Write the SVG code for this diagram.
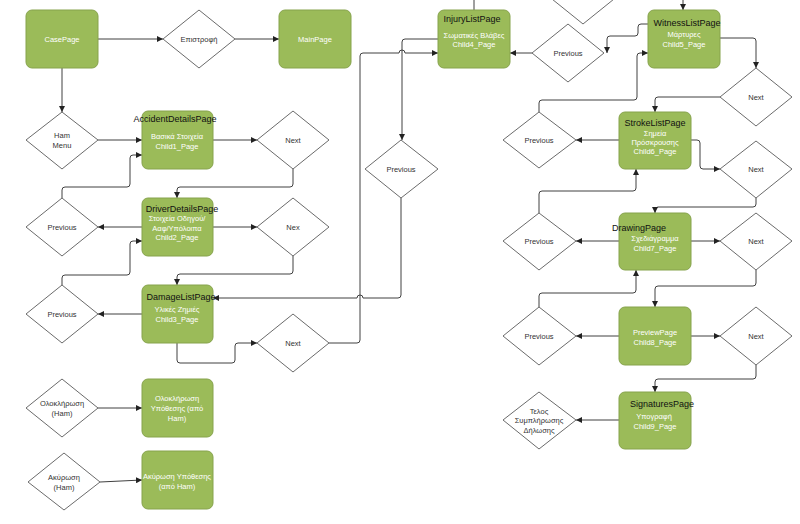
<svg xmlns="http://www.w3.org/2000/svg" width="800" height="524" viewBox="0 0 800 524">
<style>
.box{fill:#9BBB59;stroke:#86a34c;stroke-width:1}
.dia{fill:#fff;stroke:#6b6b6b;stroke-width:1}
.t{font-family:"Liberation Sans","Noto Sans",sans-serif;text-anchor:middle}
.w{fill:#fff;font-size:7.5px}
.h{fill:#111;font-size:9px}
.d{fill:#333;font-size:7.5px}
.c{fill:none;stroke:#404040;stroke-width:1}
.a{marker-end:url(#ar)}
</style>
<defs>
<marker id="ar" markerUnits="userSpaceOnUse" markerWidth="6" markerHeight="6" refX="6" refY="3" orient="auto">
<path d="M0,0 L6,3 L0,6 z" fill="#222"/>
</marker>
</defs>
<g id="connectors">
<path class="c a" d="M98,39 H163"/>
<path class="c a" d="M235,39 H279"/>
<path class="c a" d="M62,68 V112"/>
<path class="c a" d="M98,140 H142"/>
<path class="c a" d="M213,140 H257"/>
<path class="c a" d="M62,198 V190 Q62,187 65,187 H127 Q130,187 130,184 V158 Q130,155 133,155 H142"/>
<path class="c a" d="M293,169 V184 Q293,187 290,187 H180 Q177,187 177,190 V198"/>
<path class="c a" d="M142,227 H98"/>
<path class="c a" d="M213,227 H257"/>
<path class="c a" d="M293,256 V271 Q293,274 290,274 H180 Q177,274 177,277 V285"/>
<path class="c a" d="M62,285 V278 Q62,275 65,275 H127 Q130,275 130,272 V244 Q130,241 133,241 H142"/>
<path class="c a" d="M142,314 H98"/>
<path class="c a" d="M177,343 V360 Q177,363 180,363 H232 Q235,363 235,360 V346 Q235,343 238,343 H257"/>
<path class="c a" d="M329,343 H357 Q360,343 360,340 V56 Q360,53 363,53 H399 A3,3 0 0 1 405,53 H438"/>
<path class="c a" d="M438,39 H405 Q402,39 402,42 V140"/>
<path class="c a" d="M401,198 V295 Q401,298 398,298 H363 A3,3 0 0 0 357,298 H213"/>
<path class="c a" d="M532,53 H510"/>
<path class="c a" d="M648,24 H641 Q638,24 638,27 V33 Q638,36 635,36 H610 Q607,36 607,39 V53"/>
<path class="c a" d="M539,112 V103 Q539,100 542,100 H634 Q637,100 637,97 V56 Q637,53 640,53 H648"/>
<path class="c a" d="M619,140 H576"/>
<path class="c a" d="M720,38 H753 Q756,38 756,41 V68"/>
<path class="c a" d="M720,97 H658 Q655,97 655,100 V112"/>
<path class="c a" d="M691,140 H697 Q700,140 700,143 V166 Q700,169 703,169 H720"/>
<path class="c a" d="M756,198 V204 Q756,207 753,207 H658 Q655,207 655,210 V213"/>
<path class="c a" d="M539,213 V194 Q539,191 542,191 H633 Q636,191 636,188 V169"/>
<path class="c a" d="M619,241 H576"/>
<path class="c a" d="M691,241 H720"/>
<path class="c a" d="M756,270 V283 Q756,286 753,286 H658 Q655,286 655,289 V307"/>
<path class="c a" d="M539,307 V296 Q539,293 542,293 H633 Q636,293 636,290 V270"/>
<path class="c a" d="M619,336 H576"/>
<path class="c a" d="M691,336 H720"/>
<path class="c a" d="M756,365 V376 Q756,379 753,379 H658 Q655,379 655,382 V392"/>
<path class="c a" d="M619,420 H576"/>
<path class="c a" d="M98,408 H142"/>
<path class="c a" d="M100,482 L142,480"/>
<path class="c" d="M474,0 V10"/>
<path class="c a" d="M683,0 V10"/>
</g>
<g id="casePage"><rect class="box" x="26" y="10" width="72" height="58" rx="6"/><text class="t w" x="62" y="42">CasePage</text></g>
<g id="epistrofi"><polygon class="dia" points="199,10 235,39 199,68 163,39"/><text class="t d" x="199" y="41.5">Επιστροφή</text></g>
<g id="mainPage"><rect class="box" x="279" y="10" width="72" height="58" rx="6"/><text class="t w" x="315" y="42">MainPage</text></g>
<g id="hamMenu"><polygon class="dia" points="62,112 98,140 62,169 26,140"/><text class="t d" x="62" y="138">Ham</text><text class="t d" x="62" y="147.5">Menu</text></g>
<g id="accidentDetailsPage"><rect class="box" x="142" y="111" width="71" height="58" rx="6"/><text class="t h" x="175" y="122">AccidentDetailsPage</text><text class="t w" x="177" y="138.5">Βασικά Στοιχεία</text><text class="t w" x="177" y="148.5">Child1_Page</text></g>
<g id="next1"><polygon class="dia" points="293,111 329,140 293,169 257,140"/><text class="t d" x="293" y="142.5">Next</text></g>
<g id="previous1"><polygon class="dia" points="62,198 98,227 62,256 26,227"/><text class="t d" x="62" y="229.5">Previous</text></g>
<g id="driverDetailsPage"><rect class="box" x="142" y="198" width="71" height="58" rx="6"/><text class="t h" x="182" y="212">DriverDetailsPage</text><text class="t w" x="177" y="220.5">Στοιχεία Οδηγού/</text><text class="t w" x="177" y="230.5">Ααφ/Υπόλοιπα</text><text class="t w" x="177" y="239.5">Child2_Page</text></g>
<g id="nex"><polygon class="dia" points="293,198 329,227 293,256 257,227"/><text class="t d" x="293" y="229.5">Nex</text></g>
<g id="previous2"><polygon class="dia" points="62,285 98,314 62,343 26,314"/><text class="t d" x="62" y="316.5">Previous</text></g>
<g id="damageListPage"><rect class="box" x="142" y="285" width="71" height="58" rx="6"/><text class="t h" x="181" y="300">DamageListPage</text><text class="t w" x="177" y="311.5">Υλικές Ζημιές</text><text class="t w" x="177" y="321.5">Child3_Page</text></g>
<g id="next2"><polygon class="dia" points="293,314 329,343 293,372 257,343"/><text class="t d" x="293" y="345.5">Next</text></g>
<g id="previousMid"><polygon class="dia" points="401,140 438,169 401,198 365,169"/><text class="t d" x="401" y="171.5">Previous</text></g>
<g id="injuryListPage"><rect class="box" x="438" y="10" width="72" height="58" rx="6"/><text class="t h" x="472" y="22">InjuryListPage</text><text class="t w" x="474" y="37.5">Σωματικές Βλάβες</text><text class="t w" x="474" y="46.5">Child4_Page</text></g>
<g id="topDiamond"><polygon class="dia" points="583,-34 619,-5 583,24 547,-5"/></g>
<g id="previousTop"><polygon class="dia" points="568,24 604,53 568,82 532,53"/><text class="t d" x="568" y="55.5">Previous</text></g>
<g id="witnessListPage"><rect class="box" x="648" y="10" width="72" height="58" rx="6"/><text class="t h" x="687" y="26">WitnessListPage</text><text class="t w" x="684" y="36.5">Μάρτυρες</text><text class="t w" x="684" y="46.5">Child5_Page</text></g>
<g id="nextR1"><polygon class="dia" points="756,68 792,97 756,126 720,97"/><text class="t d" x="756" y="99.5">Next</text></g>
<g id="previousR1"><polygon class="dia" points="539,112 576,140 539,168 503,140"/><text class="t d" x="539" y="142.5">Previous</text></g>
<g id="strokeListPage"><rect class="box" x="619" y="112" width="72" height="57" rx="6"/><text class="t h" x="655" y="126">StrokeListPage</text><text class="t w" x="655" y="135.5">Σημεία</text><text class="t w" x="655" y="144.5">Πρόσκρουσης</text><text class="t w" x="655" y="154">Child6_Page</text></g>
<g id="nextR2"><polygon class="dia" points="756,141 792,169 756,198 720,169"/><text class="t d" x="756" y="171.5">Next</text></g>
<g id="previousR2"><polygon class="dia" points="539,213 576,241 539,270 503,241"/><text class="t d" x="539" y="243.5">Previous</text></g>
<g id="drawingPage"><rect class="box" x="619" y="213" width="72" height="57" rx="6"/><text class="t h" x="639" y="231">DrawingPage</text><text class="t w" x="655" y="241">Σχεδιάγραμμα</text><text class="t w" x="655" y="250.5">Child7_Page</text></g>
<g id="nextR3"><polygon class="dia" points="756,213 792,241 756,270 720,241"/><text class="t d" x="756" y="243.5">Next</text></g>
<g id="previousR3"><polygon class="dia" points="539,307 576,336 539,365 503,336"/><text class="t d" x="539" y="338.5">Previous</text></g>
<g id="previewPage"><rect class="box" x="619" y="307" width="72" height="58" rx="6"/><text class="t w" x="655" y="334.5">PreviewPage</text><text class="t w" x="655" y="344.5">Child8_Page</text></g>
<g id="nextR4"><polygon class="dia" points="756,307 792,336 756,365 720,336"/><text class="t d" x="756" y="338.5">Next</text></g>
<g id="signaturesPage"><rect class="box" x="619" y="392" width="72" height="57" rx="6"/><text class="t h" x="662" y="407">SignaturesPage</text><text class="t w" x="654" y="418.5">Υπογραφή</text><text class="t w" x="655" y="428.5">Child9_Page</text></g>
<g id="telos"><polygon class="dia" points="539,392 576,420 539,449 503,420"/><text class="t d" x="539" y="413.5">Τελος</text><text class="t d" x="539" y="423">Συμπλήρωσης</text><text class="t d" x="539" y="432.5">Δήλωσης</text></g>
<g id="olokl"><polygon class="dia" points="62,379 98,408 62,437 26,408"/><text class="t d" x="62" y="405.5">Ολοκλήρωση</text><text class="t d" x="62" y="415.5">(Ham)</text></g>
<g id="oloklBox"><rect class="box" x="142" y="379" width="71" height="58" rx="6"/><text class="t w" x="177" y="400.5">Ολοκλήρωση</text><text class="t w" x="177" y="410.5">Υπόθεσης (από</text><text class="t w" x="177" y="420.5">Ham)</text></g>
<g id="akyrosi"><polygon class="dia" points="64,453 100,482 64,510 28,482"/><text class="t d" x="64" y="479.5">Ακύρωση</text><text class="t d" x="64" y="489.5">(Ham)</text></g>
<g id="akyrosiBox"><rect class="box" x="142" y="451" width="71" height="58" rx="6"/><text class="t w" x="177" y="478.5">Ακύρωση Υπόθεσης</text><text class="t w" x="177" y="488.5">(από Ham)</text></g>
</svg>
